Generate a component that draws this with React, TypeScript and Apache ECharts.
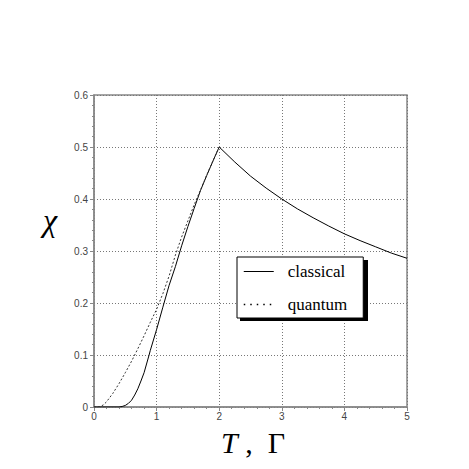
import React, { useEffect, useRef } from "react";
import * as echarts from "echarts";

const tClassical = [0, 0.4, 0.45, 0.5, 0.55, 0.6, 0.65, 0.7, 0.75, 0.8, 0.88, 0.9, 1.0, 1.1, 1.2, 1.3, 1.4, 1.5, 1.6, 1.7, 1.8, 1.9, 2.0, 2.25, 2.5, 2.75, 3.0, 3.25, 3.5, 3.75, 4.0, 4.25, 4.5, 4.75, 5.0];
const chiClassical = [0, 0, 0.001, 0.003, 0.007, 0.013, 0.023, 0.035, 0.05, 0.066, 0.1, 0.109, 0.149, 0.192, 0.234, 0.27, 0.31, 0.347, 0.382, 0.416, 0.445, 0.473, 0.5, 0.471, 0.444, 0.421, 0.4, 0.381, 0.364, 0.348, 0.333, 0.32, 0.308, 0.296, 0.286];
const tQuantum = [0, 0.1, 0.15, 0.2, 0.3, 0.4, 0.5, 0.6, 0.7, 0.8, 0.9, 1.0, 1.1, 1.2, 1.3, 1.4, 1.5, 1.6, 1.7, 1.8, 1.9, 2.0];
const chiQuantum = [0, 0.001, 0.004, 0.01, 0.026, 0.045, 0.066, 0.088, 0.112, 0.137, 0.163, 0.188, 0.218, 0.252, 0.292, 0.327, 0.358, 0.389, 0.417, 0.446, 0.473, 0.5];
const xTicks = ["0", "1", "2", "3", "4", "5"];
const yTicks = ["0", "0.1", "0.2", "0.3", "0.4", "0.5", "0.6"];

export default function App() {
  const ref = useRef<HTMLDivElement>(null);
  useEffect(() => {
    if (!ref.current) return;
    const chart = echarts.init(ref.current, undefined, { renderer: "svg" });
    const gridLeft = 94, gridTop = 95, gridW = 313, gridH = 312;
    chart.setOption({
      animation: false,
      backgroundColor: "#ffffff",
      grid: {
        left: gridLeft, top: gridTop, width: gridW, height: gridH,
        show: true, borderColor: "#888", borderWidth: 1.5, backgroundColor: "transparent",
      },
      xAxis: {
        type: "value", min: 0, max: 5, interval: 1,
        axisLine: { show: true, lineStyle: { color: "#888", width: 1.5 } },
        axisTick: { show: true, length: 4, lineStyle: { color: "#888" } },
        minorTick: { show: true, splitNumber: 5, length: 2, lineStyle: { color: "#888" } },
        splitLine: { show: true, lineStyle: { color: "#777", type: [1, 2], width: 1 } },
        axisLabel: {
          margin: 4, color: "#444", fontSize: 10, fontFamily: "Liberation Sans",
          formatter: (v: number) => xTicks[Math.round(v)] ?? "",
        },
      },
      yAxis: {
        type: "value", min: 0, max: 0.6, interval: 0.1,
        axisLine: { show: true, lineStyle: { color: "#888", width: 1.5 } },
        axisTick: { show: true, length: 4, lineStyle: { color: "#888" } },
        minorTick: { show: true, splitNumber: 5, length: 2, lineStyle: { color: "#888" } },
        splitLine: { show: true, lineStyle: { color: "#777", type: [1, 2], width: 1 } },
        axisLabel: {
          margin: 6, color: "#444", fontSize: 10, fontFamily: "Liberation Sans",
          formatter: (v: number) => yTicks[Math.round(v * 10)] ?? "",
        },
      },
      legend: {
        orient: "vertical",
        left: 237, top: 257,
        z: 10,
        backgroundColor: "#fff",
        borderColor: "#000", borderWidth: 1,
        padding: [6, 16, 5, 6],
        itemWidth: 30, itemHeight: 14, itemGap: 16,
        textStyle: { fontFamily: "Liberation Serif", fontSize: 17, color: "#000", padding: [0, 0, 0, 9] },
        data: [
          { name: "classical", itemStyle: { opacity: 0 }, lineStyle: { type: "solid", width: 1, color: "#000" } },
          { name: "quantum", itemStyle: { opacity: 0 }, lineStyle: { type: [1.5, 5], width: 1.5, color: "#000" } },
        ],
      },
      graphic: [
        {
          type: "rect", z: 5,
          shape: { x: 240, y: 260, width: 128, height: 61 },
          style: { fill: "#000" },
        },
        {
          type: "text", x: 50, y: 220, z: 20,
          style: {
            text: "χ", font: "italic 32px 'Liberation Serif'", fill: "#000",
            align: "center", verticalAlign: "middle",
          },
        },
        {
          type: "text", x: 253, y: 442, z: 20,
          style: {
            text: "{i|T} ,  Γ",
            font: "30px 'Liberation Serif'", fill: "#000",
            align: "center", verticalAlign: "middle",
            rich: { i: { fontStyle: "italic", fontFamily: "Liberation Serif", fontSize: 30 } },
          },
        },
      ],
      series: [
        {
          name: "classical", type: "line", symbol: "none", smooth: false,
          lineStyle: { color: "#000", width: 1 }, itemStyle: { color: "#000" },
          data: tClassical.map((t, i) => [t, chiClassical[i]]),
        },
        {
          name: "quantum", type: "line", symbol: "none", smooth: false,
          lineStyle: { color: "#333", width: 1, type: [2, 2] }, itemStyle: { color: "#000" },
          data: tQuantum.map((t, i) => [t, chiQuantum[i]]),
        },
      ],
    });
    return () => chart.dispose();
  }, []);
  return <div ref={ref} style={{ position: "fixed", left: 0, top: 0, width: 469, height: 469 }} />;
}
